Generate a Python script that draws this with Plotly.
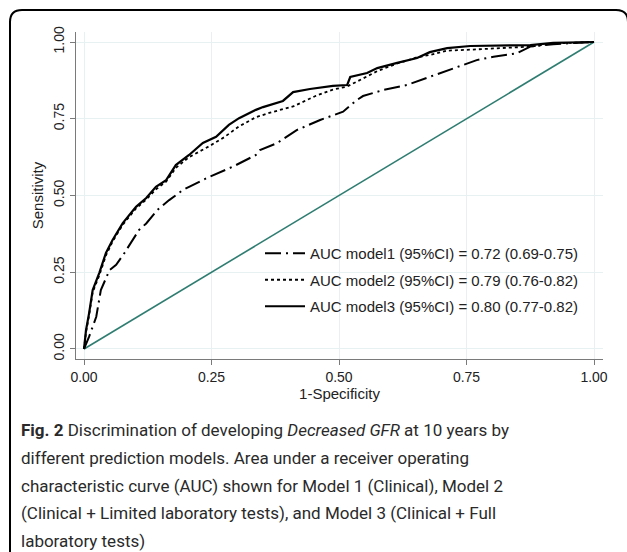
import plotly.graph_objects as go

# ---- data ----
m1_x = [0, 0.010, 0.024, 0.033, 0.050, 0.063, 0.079, 0.089, 0.108, 0.122, 0.144, 0.167, 0.194,
        0.207, 0.246, 0.292, 0.337, 0.345, 0.378, 0.417, 0.463, 0.508, 0.535, 0.547, 0.587,
        0.633, 0.678, 0.695, 0.724, 0.744, 0.770, 0.803, 0.848, 0.875, 0.920, 1.0]
m1_y = [0, 0.040, 0.105, 0.192, 0.257, 0.274, 0.312, 0.339, 0.388, 0.409, 0.453, 0.485, 0.518,
        0.529, 0.561, 0.594, 0.632, 0.648, 0.670, 0.713, 0.746, 0.773, 0.811, 0.824, 0.844,
        0.860, 0.887, 0.898, 0.914, 0.925, 0.941, 0.952, 0.963, 0.985, 0.993, 1.0]

m2_x = [0, 0.004, 0.010, 0.017, 0.030, 0.043, 0.056, 0.076, 0.102, 0.122, 0.141, 0.161, 0.180,
        0.206, 0.245, 0.275, 0.304, 0.337, 0.365, 0.410, 0.455, 0.488, 0.516, 0.540, 0.575,
        0.614, 0.653, 0.678, 0.712, 0.757, 0.800, 0.875, 0.920, 1.0]
m2_y = [0, 0.055, 0.110, 0.185, 0.240, 0.305, 0.350, 0.405, 0.458, 0.487, 0.520, 0.545, 0.590,
        0.625, 0.660, 0.690, 0.725, 0.755, 0.770, 0.790, 0.825, 0.845, 0.855, 0.875, 0.905,
        0.930, 0.950, 0.958, 0.972, 0.975, 0.978, 0.985, 0.995, 1.0]

m3_x = [0, 0.004, 0.010, 0.017, 0.030, 0.043, 0.056, 0.076, 0.102, 0.122, 0.141, 0.161, 0.180,
        0.206, 0.233, 0.259, 0.284, 0.304, 0.337, 0.351, 0.390, 0.410, 0.443, 0.488, 0.516,
        0.522, 0.555, 0.575, 0.614, 0.653, 0.678, 0.712, 0.757, 0.875, 0.920, 1.0]
m3_y = [0, 0.062, 0.117, 0.192, 0.248, 0.313, 0.355, 0.410, 0.463, 0.492, 0.528, 0.550, 0.599,
        0.632, 0.671, 0.691, 0.730, 0.752, 0.779, 0.788, 0.808, 0.837, 0.847, 0.857, 0.860,
        0.886, 0.899, 0.915, 0.932, 0.948, 0.967, 0.980, 0.987, 0.990, 0.997, 1.0]

ref_x = [0, 1]
ref_y = [0, 1]

labels = ["AUC model1 (95%CI) = 0.72 (0.69-0.75)",
          "AUC model2 (95%CI) = 0.79 (0.76-0.82)",
          "AUC model3 (95%CI) = 0.80 (0.77-0.82)"]

ticks = [0, 0.25, 0.5, 0.75, 1.0]
tick_text = ["0.00", "0.25", "0.50", "0.75", "1.00"]

caption = ["<b>Fig. 2</b> Discrimination of developing <i>Decreased GFR</i> at 10 years by",
           "different prediction models. Area under a receiver operating",
           "characteristic curve (AUC) shown for Model 1 (Clinical), Model 2",
           "(Clinical + Limited laboratory tests), and Model 3 (Clinical + Full",
           "laboratory tests)"]

W, H = 627, 552
L, R, T, B = 76, 24, 32, 193
PW, PH = W - L - R, H - T - B


def px(x):
    return (x - L) / PW


def py(y):
    return (H - B - y) / PH


fig = go.Figure()
fig.add_trace(go.Scatter(x=ref_x, y=ref_y, mode="lines", showlegend=False,
                         line=dict(color="#2f7d71", width=1.6), hoverinfo="skip"))
fig.add_trace(go.Scatter(x=m1_x, y=m1_y, mode="lines", name=labels[0], legendgroup="a",
                         line=dict(color="black", width=2, dash="16px,5px,2px,5px")))
fig.add_trace(go.Scatter(x=m2_x, y=m2_y, mode="lines", name=labels[1], legendgroup="b",
                         line=dict(color="black", width=1.8, dash="dot")))
fig.add_trace(go.Scatter(x=m3_x, y=m3_y, mode="lines", name=labels[2], legendgroup="c",
                         line=dict(color="black", width=2.2)))

axis_common = dict(
    tickvals=ticks, ticktext=tick_text, showgrid=True, gridcolor="#e8f1f2", gridwidth=1.2,
    zeroline=False, showline=True, linecolor="#7a7a7a", linewidth=1, ticks="outside",
    ticklen=5, tickcolor="#7a7a7a", tickfont=dict(family="Liberation Sans, Arial", size=14, color="#222"),
)

fig.update_layout(
    width=W, height=H,
    margin=dict(l=L, r=R, t=T, b=B),
    paper_bgcolor="white", plot_bgcolor="white",
    font=dict(family="Liberation Sans, Arial", color="#222"),
    xaxis=dict(range=[-0.0157, 1.0176], title=dict(text="1-Specificity", standoff=0,
               font=dict(size=15)), **axis_common),
    yaxis=dict(range=[-0.0326, 1.0326], tickangle=-90,
               title=dict(text="Sensitivity", standoff=4, font=dict(size=15)), **axis_common),
    legend=dict(x=px(260), y=py(237), xanchor="left", yanchor="top", bgcolor="rgba(0,0,0,0)",
                font=dict(size=15, family="Liberation Sans, Arial", color="#222"),
                traceorder="grouped", tracegroupgap=4, itemwidth=40),
    showlegend=True,
)

# rounded frame, cut at the right and bottom edges of the picture
x0, y0, x1, y1, r = px(10), py(10), px(628), py(600), 12
rx, ry = r / PW, r / PH
path = (f"M {x0},{py(600)} L {x0},{y0 - ry} Q {x0},{y0} {x0 + rx},{y0} "
        f"L {x1 - rx},{y0} Q {x1},{y0} {x1},{y0 - ry} L {x1},{y1}")
fig.add_shape(type="path", xref="paper", yref="paper", path=path,
              line=dict(color="black", width=2))

caption_y = [430, 458, 486, 513, 541]
for txt, yy in zip(caption, caption_y):
    fig.add_annotation(text=txt, xref="paper", yref="paper", x=px(19), y=py(yy),
                       xanchor="left", yanchor="middle", showarrow=False,
                       font=dict(family="Roboto", size=17, color="#2a2a2a"))

fig.write_html("out.html", config={"displayModeBar": False},
               post_script="document.body.style.margin='0';document.body.style.overflow='hidden';")
